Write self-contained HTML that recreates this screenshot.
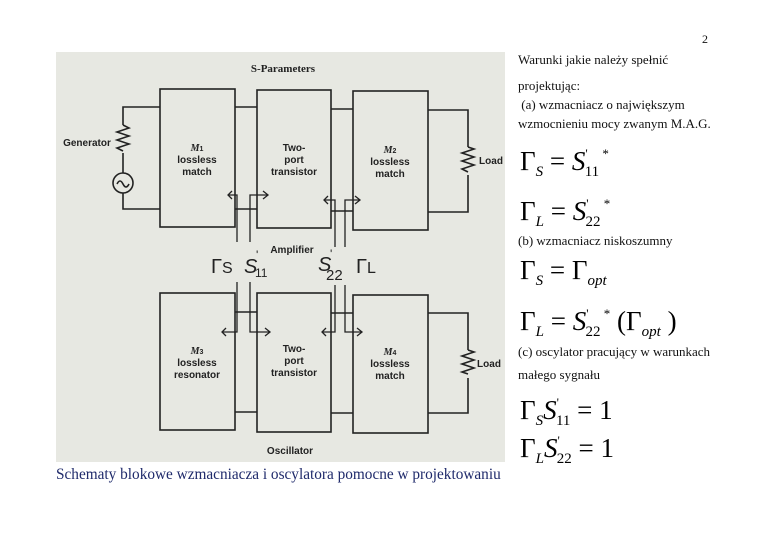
<!DOCTYPE html>
<html><head><meta charset="utf-8"><style>
body{margin:0;width:760px;height:537px;background:#fff;position:relative;overflow:hidden;font-family:"Liberation Serif",serif}
.t{position:absolute;font-size:13px;color:#111;white-space:nowrap}
.eq{position:absolute;font-family:"Liberation Serif",serif;font-size:27px;color:#000;white-space:nowrap;line-height:1}
.eq sub{font-size:15px;font-style:italic;vertical-align:-6px}
.eq .s{font-style:italic}
.eq sup{font-size:13px;vertical-align:12px}
</style></head><body>
<svg width="760" height="537" style="position:absolute;left:0;top:0" font-family="Liberation Sans, sans-serif">
<rect x="56" y="52" width="449" height="410" fill="#e7e8e2"/>
<g fill="none" stroke="#222" stroke-width="1.6">
<rect x="160" y="89" width="75" height="138"/>
<rect x="257" y="90" width="74" height="138"/>
<rect x="353" y="91" width="75" height="139"/>
<rect x="160" y="293" width="75" height="137"/>
<rect x="257" y="293" width="74" height="139"/>
<rect x="353" y="295" width="75" height="138"/>
<polyline points="160,107 123,107 123,125"/>
<polyline points="123,153 123,173"/>
<polyline points="123,193 123,209 160,209"/>
<path d="M123,125 l6,3 l-12,4 l12,4 l-12,4 l12,4 l-12,4 l6,3"/>
<circle cx="123" cy="183" r="10"/>
<path d="M117,184 q3,-6 6,0 q3,6 6,0"/>
<line x1="235" y1="107" x2="257" y2="107"/><line x1="235" y1="209" x2="257" y2="209"/>
<line x1="331" y1="109" x2="353" y2="109"/><line x1="331" y1="211" x2="353" y2="211"/>
<polyline points="428,110 468,110 468,147"/><polyline points="468,175 468,212 428,212"/>
<path d="M468,147 l6,2 l-12,4 l12,4 l-12,4 l12,4 l-12,4 l6,3"/>
<line x1="235" y1="312" x2="257" y2="312"/><line x1="235" y1="412" x2="257" y2="412"/>
<line x1="331" y1="313" x2="353" y2="313"/><line x1="331" y1="413" x2="353" y2="413"/>
<polyline points="428,313 468,313 468,350"/><polyline points="468,378 468,413 428,413"/>
<path d="M468,350 l6,2 l-12,4 l12,4 l-12,4 l12,4 l-12,4 l6,2"/>
<g stroke-width="1.3">
<polyline points="237,242 237,195 228,195"/><polyline points="250,242 250,195 268,195"/>
<polyline points="335,247 335,200 324,200"/><polyline points="345,247 345,200 360,200"/>
<polyline points="237,282 237,332 222,332"/><polyline points="250,282 250,332 270,332"/>
<polyline points="335,285 335,332 322,332"/><polyline points="345,285 345,332 362,332"/>
<path d="M232,191 l-4,4 l4,4 M263,191 l5,4 l-5,4 M328,196 l-4,4 l4,4 M355,196 l5,4 l-5,4 M226,328 l-4,4 l4,4 M265,328 l5,4 l-5,4 M326,328 l-4,4 l4,4 M357,328 l5,4 l-5,4"/>
</g>
</g>
<g fill="#222" font-size="10" font-weight="bold" text-anchor="middle">
<text x="283" y="72" font-family="Liberation Serif, serif" font-size="11">S-Parameters</text>
<text x="197" y="151"><tspan font-style="italic" font-family="Liberation Serif, serif">M</tspan><tspan font-size="7">1</tspan></text>
<text x="197" y="163">lossless</text><text x="197" y="175">match</text>
<text x="294" y="151">Two-</text><text x="294" y="163">port</text><text x="294" y="175">transistor</text>
<text x="390" y="153"><tspan font-style="italic" font-family="Liberation Serif, serif">M</tspan><tspan font-size="7">2</tspan></text>
<text x="390" y="165">lossless</text><text x="390" y="177">match</text>
<text x="197" y="354"><tspan font-style="italic" font-family="Liberation Serif, serif">M</tspan><tspan font-size="7">3</tspan></text>
<text x="197" y="366">lossless</text><text x="197" y="378">resonator</text>
<text x="294" y="352">Two-</text><text x="294" y="364">port</text><text x="294" y="376">transistor</text>
<text x="390" y="355"><tspan font-style="italic" font-family="Liberation Serif, serif">M</tspan><tspan font-size="7">4</tspan></text>
<text x="390" y="367">lossless</text><text x="390" y="379">match</text>
<text x="87" y="146">Generator</text>
<text x="491" y="164">Load</text><text x="489" y="367">Load</text>
<text x="292" y="253">Amplifier</text>
<text x="290" y="454">Oscillator</text>
</g>
<g fill="#222" font-size="20" font-family="Liberation Sans, sans-serif">
<text x="211" y="273">Γ<tspan font-size="16">S</tspan></text>
<text x="244" y="273" font-style="italic">S</text><text x="256" y="259" font-size="12">'</text><text x="255" y="277" font-size="12">11</text>
<text x="318" y="271" font-style="italic">S</text><text x="330" y="258" font-size="12">'</text><text x="326" y="280" font-size="15">22</text>
<text x="356" y="273">Γ<tspan font-size="16">L</tspan></text>
</g>
</svg>
<div class="t" style="left:702px;top:32px;font-size:12px">2</div>
<div class="t" style="left:518px;top:52px">Warunki jakie należy spełnić</div>
<div class="t" style="left:518px;top:78px">projektując:</div>
<div class="t" style="left:518px;top:97px">&nbsp;(a) wzmacniacz o największym</div>
<div class="t" style="left:518px;top:116px">wzmocnieniu mocy zwanym M.A.G.</div>
<div class="eq" style="left:520px;top:147px">Γ<sub>S</sub> = <span class="s">S</span><sup>'</sup><sub style="margin-left:-3px;font-style:normal">11</sub><sup>&nbsp;*</sup></div>
<div class="eq" style="left:520px;top:197px">Γ<sub>L</sub> = <span class="s">S</span><sup>'</sup><sub style="margin-left:-3px;font-style:normal">22</sub><sup>&nbsp;*</sup></div>
<div class="t" style="left:518px;top:233px">(b) wzmacniacz niskoszumny</div>
<div class="eq" style="left:520px;top:257px">Γ<sub>S</sub> = Γ<sub>opt</sub></div>
<div class="eq" style="left:520px;top:307px">Γ<sub>L</sub> = <span class="s">S</span><sup>'</sup><sub style="margin-left:-3px;font-style:normal">22</sub><sup>&nbsp;*</sup> (Γ<sub>opt</sub> )</div>
<div class="t" style="left:518px;top:344px">(c) oscylator pracujący w warunkach</div>
<div class="t" style="left:518px;top:367px">małego sygnału</div>
<div class="eq" style="left:520px;top:396px">Γ<sub>S</sub><span class="s">S</span><sup>'</sup><sub style="margin-left:-3px;font-style:normal">11</sub> = 1</div>
<div class="eq" style="left:520px;top:434px">Γ<sub>L</sub><span class="s">S</span><sup>'</sup><sub style="margin-left:-3px;font-style:normal">22</sub> = 1</div>
<div class="t" style="left:56px;top:466px;font-size:15.3px;color:#1f2a6b">Schematy blokowe wzmacniacza i oscylatora pomocne w projektowaniu</div>
</body></html>
